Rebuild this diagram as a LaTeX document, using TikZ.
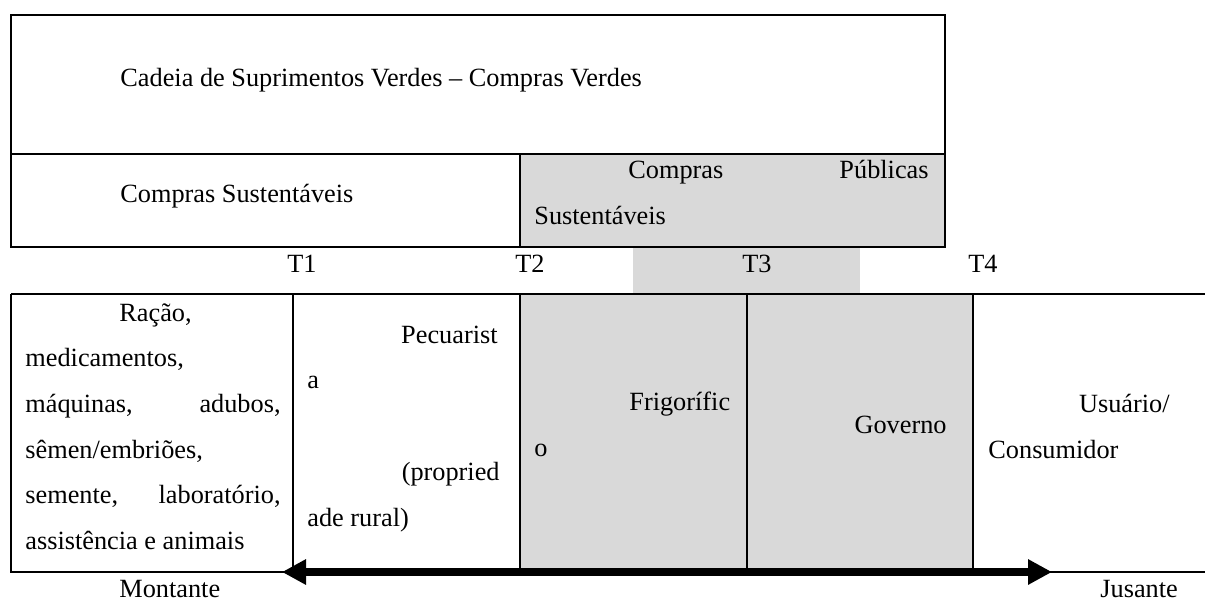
\documentclass[tikz,border=0pt]{standalone}
\usepackage{fontspec}
\setmainfont{Liberation Serif}
\usepackage{tikz}
\usetikzlibrary{arrows.meta, positioning}
\definecolor{cellgray}{RGB}{217,217,217}

\begin{document}
\begin{tikzpicture}[
			x=0.5pt, y=-0.5pt,
			every node/.style={inner sep=0pt, font=\fontsize{13.15}{15}\selectfont},
			lt/.style={anchor=base west},
			rt/.style={anchor=base east},
			ct/.style={anchor=base},
			rule/.style={line width=0.7pt},
			flow/.style={line width=4pt, {Triangle[length=12pt,width=12pt]}-{Triangle[length=12pt,width=12pt]}}
		]
		\useasboundingbox (0,0) rectangle (1205,612);
		\fill[cellgray] (520,154) rectangle (945,247);
		\fill[cellgray] (633,247) rectangle (860,294);
		\fill[cellgray] (520,294) rectangle (973,572);
		\draw[rule] (11,15) rectangle (945,247);
		\draw[rule] (11,154) -- (945,154);
		\draw[rule] (520,154) -- (520,247);
		\draw[rule] (11,294) -- (1205,294);
		\draw[rule] (11,294) -- (11,572) -- (1205,572);
		\foreach \xc in {293,520,747,973}
			\draw[rule] (\xc,294) -- (\xc,572);
		\coordinate (montante end) at (282,572);
		\coordinate (jusante end) at (1052,572);
		\draw[flow] (montante end) -- (jusante end);
		\node[lt] (cadeia) at (120,86) {Cadeia de Suprimentos Verdes – Compras Verdes};
		\node[lt] (sust) at (120,202) {Compras Sustentáveis};
		\node[lt] (pub a) at (628,178) {Compras};
		\node[rt] (pub b) at (929,178) {Públicas};
		\node[lt] (pub c) at (534,224) {Sustentáveis};
		\node[ct] (t1) at (302,272) {T1};
		\node[ct] (t2) at (530,272) {T2};
		\node[ct] (t3) at (757,272) {T3};
		\node[ct] (t4) at (983,272) {T4};
		\node[lt] (ins a) at (119,321) {Ração,};
		\node[lt] (ins b) at (25,366.6) {medicamentos,};
		\node[lt] (ins c) at (25,412) {máquinas,};
		\node[rt] (ins d) at (281,412) {adubos,};
		\node[lt] (ins e) at (25,458) {sêmen/embriões,};
		\node[lt] (ins f) at (25,503) {semente,};
		\node[rt] (ins g) at (281,503) {laboratório,};
		\node[lt] (ins h) at (25,549) {assistência e animais};
		\node[rt] (pec a) at (498,343) {Pecuarist};
		\node[lt] (pec b) at (307,388) {a};
		\node[rt] (pec c) at (500,480) {(propried};
		\node[lt] (pec d) at (307,526) {ade rural)};
		\node[lt] (frig a) at (629,410) {Frigorífic};
		\node[lt] (frig b) at (534,456.7) {o};
		\node[rt] (gov) at (947,433) {Governo};
		\node[rt] (usu a) at (1170,412) {Usuário/};
		\node[lt] (usu b) at (988,458) {Consumidor};
		\node[lt] (mont) at (119,597) {Montante};
		\node[lt] (jus) at (1100,597) {Jusante};
	\end{tikzpicture}
\end{document}
